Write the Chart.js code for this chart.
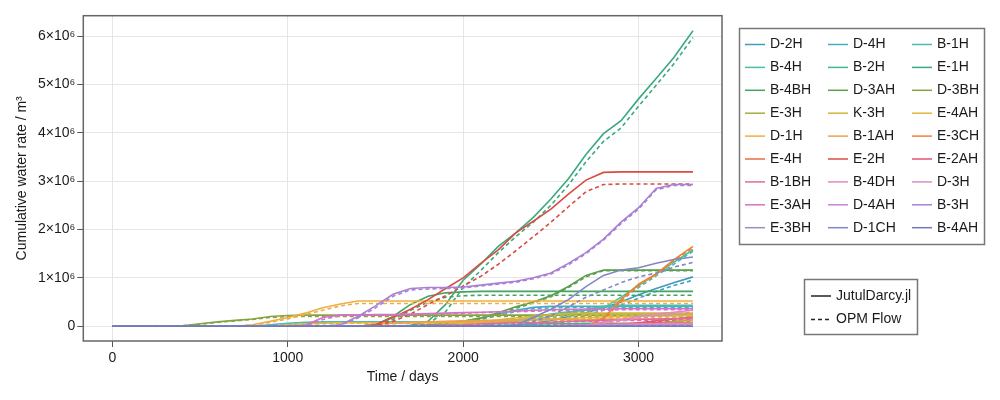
<!DOCTYPE html>
<html><head><meta charset="utf-8">
<script src="https://cdn.jsdelivr.net/npm/chart.js@4.4.0/dist/chart.umd.min.js"></script>
<style>html,body{margin:0;padding:0;background:#fff}#wrap{width:1000px;height:400px}</style>
</head><body><div id="wrap"><canvas id="c" width="1000" height="400"></canvas></div>
<script>
// Time axis (days)
const times = [0,100,200,300,400,500,600,700,800,900,1000,1100,1200,1300,1400,1500,1600,1700,1800,1900,2000,2100,2200,2300,2400,2500,2600,2700,2800,2900,3000,3100,3200,3310];
const xTicks = [0,1000,2000,3000];
const yTicks = [0,1,2,3,4,5,6]; // units of 10^6 m^3
const wells = ["D-2H","D-4H","B-1H","B-4H","B-2H","E-1H","B-4BH","D-3AH","D-3BH","E-3H","K-3H","E-4AH","D-1H","B-1AH","E-3CH","E-4H","E-2H","E-2AH","B-1BH","B-4DH","D-3H","E-3AH","D-4AH","B-3H","E-3BH","D-1CH","B-4AH"];

// Cumulative water, 10^6 m^3. j_ = JutulDarcy.jl, o_ = OPM Flow
const j_D2H = [0,0,0,0,0,0,0,0,0,0, 0,0,0,0,0,0,0,0,0,0, 0,0,0,0.02,0.06,0.12,0.2,0.28,0.38,0.5, 0.65,0.78,0.9,1.02];
const o_D2H = [0,0,0,0,0,0,0,0,0,0, 0,0,0,0,0,0,0,0,0,0, 0,0,0,0.01,0.04,0.09,0.16,0.23,0.33,0.44, 0.58,0.72,0.84,0.95];
const j_D4H = [0,0,0,0,0,0,0,0,0,0, 0,0,0,0,0,0,0,0,0,0.04, 0.1,0.17,0.25,0.33,0.39,0.41,0.41,0.41,0.41,0.41, 0.41,0.41,0.41,0.41];
const o_D4H = [0,0,0,0,0,0,0,0,0,0, 0,0,0,0,0,0,0,0,0,0.02, 0.07,0.14,0.22,0.3,0.36,0.38,0.39,0.39,0.39,0.39, 0.39,0.39,0.39,0.39];
const j_B1H = [0,0,0,0,0,0,0,0,0,0.03, 0.06,0.08,0.09,0.09,0.09,0.09,0.09,0.09,0.09,0.09, 0.09,0.09,0.09,0.09,0.13,0.2,0.28,0.35,0.41,0.43, 0.43,0.43,0.43,0.43];
const o_B1H = [0,0,0,0,0,0,0,0,0,0.02, 0.05,0.07,0.08,0.08,0.08,0.08,0.08,0.08,0.08,0.08, 0.08,0.08,0.08,0.08,0.11,0.17,0.25,0.32,0.38,0.41, 0.42,0.42,0.42,0.42];
const j_B4H = [0,0,0,0,0,0,0,0,0,0, 0,0,0,0,0,0,0,0,0,0, 0,0.02,0.06,0.12,0.18,0.25,0.3,0.33,0.38,0.6, 0.84,1.08,1.32,1.58];
const o_B4H = [0,0,0,0,0,0,0,0,0,0, 0,0,0,0,0,0,0,0,0,0, 0,0.01,0.04,0.09,0.15,0.21,0.26,0.3,0.35,0.56, 0.8,1.04,1.28,1.55];
const j_B2H = [0,0,0,0,0,0,0,0,0,0, 0,0,0,0,0,0,0,0,0,0, 0,0.01,0.02,0.03,0.04,0.05,0.05,0.06,0.06,0.06, 0.06,0.06,0.07,0.07];
const o_B2H = [0,0,0,0,0,0,0,0,0,0, 0,0,0,0,0,0,0,0,0,0, 0,0.01,0.01,0.02,0.03,0.04,0.04,0.05,0.05,0.05, 0.05,0.05,0.06,0.06];
const j_E1H = [0,0,0,0,0,0,0,0,0,0, 0,0,0,0,0,0,0,0.02,0.1,0.45, 0.95,1.28,1.65,1.93,2.25,2.63,3.05,3.55,3.98,4.25, 4.7,5.12,5.55,6.11];
const o_E1H = [0,0,0,0,0,0,0,0,0,0, 0,0,0,0,0,0,0,0.01,0.05,0.3, 0.8,1.15,1.52,1.85,2.15,2.5,2.92,3.4,3.82,4.1, 4.55,4.98,5.42,5.97];
const j_B4BH = [0,0,0,0,0,0,0,0,0,0, 0,0,0,0,0,0.03,0.2,0.45,0.62,0.69, 0.71,0.72,0.72,0.72,0.72,0.72,0.72,0.72,0.72,0.72, 0.72,0.72,0.72,0.72];
const o_B4BH = [0,0,0,0,0,0,0,0,0,0, 0,0,0,0,0,0.02,0.14,0.33,0.5,0.6, 0.63,0.64,0.64,0.64,0.64,0.64,0.64,0.64,0.64,0.64, 0.64,0.64,0.64,0.64];
const j_D3AH = [0,0,0,0,0,0,0,0,0,0, 0,0,0,0,0,0,0,0.01,0.03,0.06, 0.1,0.17,0.28,0.4,0.5,0.63,0.82,1.05,1.16,1.16, 1.16,1.16,1.16,1.16];
const o_D3AH = [0,0,0,0,0,0,0,0,0,0, 0,0,0,0,0,0,0,0.01,0.02,0.05, 0.08,0.15,0.25,0.37,0.48,0.61,0.8,1.02,1.15,1.15, 1.15,1.15,1.15,1.15];
const j_D3BH = [0,0,0,0,0.01,0.05,0.09,0.12,0.15,0.2, 0.22,0.23,0.23,0.23,0.23,0.23,0.23,0.23,0.23,0.23, 0.23,0.23,0.23,0.23,0.23,0.23,0.23,0.23,0.23,0.23, 0.23,0.23,0.23,0.23];
const o_D3BH = [0,0,0,0,0.01,0.04,0.08,0.11,0.14,0.18, 0.2,0.2,0.2,0.2,0.2,0.2,0.2,0.2,0.2,0.2, 0.2,0.2,0.2,0.2,0.2,0.2,0.2,0.2,0.2,0.2, 0.2,0.2,0.2,0.2];
const j_E3H = [0,0,0,0,0,0,0,0,0,0, 0,0,0,0,0,0,0,0,0,0, 0,0,0,0,0,0,0,0,0.01,0.03, 0.05,0.07,0.1,0.13];
const o_E3H = [0,0,0,0,0,0,0,0,0,0, 0,0,0,0,0,0,0,0,0,0, 0,0,0,0,0,0,0,0,0.01,0.02, 0.04,0.06,0.08,0.11];
const j_K3H = [0,0,0,0,0,0,0,0,0,0, 0,0,0,0,0,0,0,0,0,0.02, 0.05,0.09,0.13,0.17,0.21,0.24,0.26,0.27,0.27,0.27, 0.27,0.27,0.27,0.27];
const o_K3H = [0,0,0,0,0,0,0,0,0,0, 0,0,0,0,0,0,0,0,0,0.01, 0.04,0.07,0.1,0.14,0.17,0.2,0.22,0.23,0.23,0.23, 0.23,0.23,0.23,0.23];
const j_E4AH = [0,0,0,0,0,0,0,0,0,0, 0.03,0.05,0.06,0.07,0.07,0.07,0.07,0.07,0.07,0.07, 0.07,0.09,0.1,0.12,0.13,0.15,0.16,0.18,0.19,0.2, 0.2,0.21,0.21,0.22];
const o_E4AH = [0,0,0,0,0,0,0,0,0,0, 0.02,0.04,0.05,0.06,0.06,0.06,0.06,0.06,0.06,0.06, 0.06,0.08,0.09,0.1,0.11,0.13,0.14,0.16,0.17,0.18, 0.18,0.19,0.19,0.2];
const j_D1H = [0,0,0,0,0,0,0,0,0.03,0.1, 0.18,0.27,0.38,0.46,0.52,0.52,0.52,0.52,0.52,0.52, 0.52,0.52,0.52,0.52,0.52,0.52,0.52,0.52,0.52,0.52, 0.52,0.52,0.52,0.52];
const o_D1H = [0,0,0,0,0,0,0,0,0.02,0.08, 0.15,0.24,0.33,0.42,0.47,0.47,0.47,0.47,0.47,0.47, 0.47,0.47,0.47,0.47,0.47,0.47,0.47,0.47,0.47,0.47, 0.47,0.47,0.47,0.47];
const j_B1AH = [0,0,0,0,0,0,0,0,0,0, 0,0,0,0,0,0.04,0.06,0.08,0.09,0.1, 0.11,0.12,0.12,0.13,0.13,0.14,0.14,0.14,0.15,0.15, 0.15,0.15,0.15,0.15];
const o_B1AH = [0,0,0,0,0,0,0,0,0,0, 0,0,0,0,0,0.03,0.05,0.07,0.08,0.09, 0.1,0.1,0.11,0.11,0.12,0.12,0.12,0.13,0.13,0.13, 0.13,0.13,0.13,0.13];
const j_E3CH = [0,0,0,0,0,0,0,0,0,0, 0,0,0,0,0,0,0,0,0,0, 0,0,0,0,0,0,0,0,0.17,0.55, 0.87,1.08,1.37,1.65];
const o_E3CH = [0,0,0,0,0,0,0,0,0,0, 0,0,0,0,0,0,0,0,0,0, 0,0,0,0,0,0,0,0,0.13,0.51, 0.84,1.06,1.35,1.62];
const j_E4H = [0,0,0,0,0,0,0,0,0,0, 0,0,0,0,0,0,0,0,0,0, 0,0,0,0,0,0.01,0.02,0.03,0.04,0.05, 0.06,0.07,0.07,0.08];
const o_E4H = [0,0,0,0,0,0,0,0,0,0, 0,0,0,0,0,0,0,0,0,0, 0,0,0,0,0,0,0.01,0.02,0.03,0.04, 0.05,0.06,0.06,0.07];
const j_E2H = [0,0,0,0,0,0,0,0,0,0, 0,0,0,0,0,0.03,0.18,0.35,0.55,0.78, 1.0,1.3,1.58,1.93,2.17,2.42,2.73,3.02,3.18,3.19, 3.19,3.19,3.19,3.19];
const o_E2H = [0,0,0,0,0,0,0,0,0,0, 0,0,0,0,0,0.01,0.1,0.25,0.45,0.63, 0.83,1.03,1.28,1.56,1.85,2.15,2.47,2.78,2.93,2.94, 2.94,2.94,2.94,2.94];
const j_E2AH = [0,0,0,0,0,0,0,0,0,0, 0,0,0,0,0,0,0,0,0,0, 0,0,0,0,0,0,0,0,0,0.03, 0.07,0.11,0.15,0.19];
const o_E2AH = [0,0,0,0,0,0,0,0,0,0, 0,0,0,0,0,0,0,0,0,0, 0,0,0,0,0,0,0,0,0,0.02, 0.06,0.09,0.13,0.17];
const j_B1BH = [0,0,0,0,0,0,0,0,0,0, 0,0,0,0,0,0,0,0.01,0.02,0.02, 0.03,0.05,0.06,0.07,0.07,0.08,0.1,0.11,0.12,0.13, 0.14,0.15,0.16,0.17];
const o_B1BH = [0,0,0,0,0,0,0,0,0,0, 0,0,0,0,0,0,0,0,0.01,0.02, 0.02,0.04,0.05,0.06,0.06,0.07,0.09,0.1,0.11,0.12, 0.12,0.13,0.14,0.15];
const j_B4DH = [0,0,0,0,0,0,0,0,0,0, 0,0,0,0,0,0,0,0,0,0, 0,0,0,0,0,0,0,0.02,0.08,0.14, 0.2,0.25,0.29,0.33];
const o_B4DH = [0,0,0,0,0,0,0,0,0,0, 0,0,0,0,0,0,0,0,0,0, 0,0,0,0,0,0,0,0.01,0.06,0.11, 0.16,0.21,0.25,0.29];
const j_D3H = [0,0,0,0,0,0,0,0,0,0, 0,0,0,0,0,0,0,0,0,0, 0,0,0,0,0,0,0.01,0.02,0.03,0.04, 0.05,0.05,0.06,0.06];
const o_D3H = [0,0,0,0,0,0,0,0,0,0, 0,0,0,0,0,0,0,0,0,0, 0,0,0,0,0,0,0,0.01,0.02,0.03, 0.04,0.04,0.05,0.05];
const j_E3AH = [0,0,0,0,0,0,0,0,0,0, 0,0.02,0.18,0.23,0.23,0.24,0.24,0.25,0.26,0.27, 0.28,0.29,0.3,0.31,0.33,0.34,0.35,0.35,0.35,0.36, 0.36,0.36,0.36,0.36];
const o_E3AH = [0,0,0,0,0,0,0,0,0,0, 0,0.01,0.14,0.22,0.22,0.23,0.23,0.24,0.25,0.26, 0.27,0.28,0.29,0.3,0.31,0.32,0.33,0.33,0.33,0.34, 0.34,0.34,0.34,0.34];
const j_D4AH = [0,0,0,0,0,0,0,0,0,0, 0,0,0,0,0,0,0,0,0,0, 0,0,0,0.01,0.01,0.01,0.02,0.02,0.02,0.02, 0.03,0.03,0.03,0.03];
const o_D4AH = [0,0,0,0,0,0,0,0,0,0, 0,0,0,0,0,0,0,0,0,0, 0,0,0,0,0.01,0.01,0.01,0.01,0.02,0.02, 0.02,0.02,0.02,0.02];
const j_B3H = [0,0,0,0,0,0,0,0,0,0, 0,0,0,0.03,0.2,0.42,0.66,0.78,0.8,0.8, 0.81,0.85,0.89,0.93,1.0,1.1,1.3,1.52,1.8,2.15, 2.45,2.85,2.93,2.93];
const o_B3H = [0,0,0,0,0,0,0,0,0,0, 0,0,0,0.02,0.17,0.38,0.62,0.75,0.77,0.78, 0.79,0.83,0.87,0.91,0.98,1.08,1.27,1.5,1.78,2.12, 2.42,2.82,2.91,2.91];
const j_E3BH = [0,0,0,0,0,0,0,0,0,0, 0,0,0,0,0,0,0,0,0,0, 0,0,0,0,0,0,0,0,0,0, 0,0,0,0];
const o_E3BH = [0,0,0,0,0,0,0,0,0,0, 0,0,0,0,0,0,0,0,0,0, 0,0,0,0,0,0,0,0,0,0, 0,0,0,0];
const j_D1CH = [0,0,0,0,0,0,0,0,0,0, 0,0,0,0,0,0,0,0,0,0, 0,0,0,0.02,0.18,0.35,0.55,0.82,1.05,1.16, 1.21,1.3,1.38,1.43];
const o_D1CH = [0,0,0,0,0,0,0,0,0,0, 0,0,0,0,0,0,0,0,0,0, 0,0,0,0.01,0.1,0.22,0.4,0.6,0.75,0.9, 1.02,1.1,1.22,1.32];
const j_B4AH = [0,0,0,0,0,0,0,0,0,0, 0,0,0,0,0,0,0,0,0,0, 0,0,0,0,0,0,0,0,0,0, 0,0,0,0];
const o_B4AH = [0,0,0,0,0,0,0,0,0,0, 0,0,0,0,0,0,0,0,0,0, 0,0,0,0,0,0,0,0,0,0, 0,0,0,0];

const jutulSeries = [j_D2H,j_D4H,j_B1H,j_B4H,j_B2H,j_E1H,j_B4BH,j_D3AH,j_D3BH,j_E3H,j_K3H,j_E4AH,j_D1H,j_B1AH,j_E3CH,j_E4H,j_E2H,j_E2AH,j_B1BH,j_B4DH,j_D3H,j_E3AH,j_D4AH,j_B3H,j_E3BH,j_D1CH,j_B4AH];
const opmSeries = [o_D2H,o_D4H,o_B1H,o_B4H,o_B2H,o_E1H,o_B4BH,o_D3AH,o_D3BH,o_E3H,o_K3H,o_E4AH,o_D1H,o_B1AH,o_E3CH,o_E4H,o_E2H,o_E2AH,o_B1BH,o_B4DH,o_D3H,o_E3AH,o_D4AH,o_B3H,o_E3BH,o_D1CH,o_B4AH];

// styles
const palette = ['#3f9cc0','#43adc4','#4cbab9','#45c0a8','#3fb893','#3aaa7e','#45a265','#5a9f4c','#86a440','#a6ae3c','#cdb73a','#e2b63e','#eeae42','#eba24c','#ec8438','#e66e46','#d94c43','#e05670','#de6c9c','#e389bd','#de8cc6','#d572c6','#c688d4','#aa80d2','#9c8bc9','#8088c4','#6f7abb'];
const FONT = "'Liberation Sans', Arial, sans-serif";
const TEXT = '#1a1a1a';

// later wells are drawn on top (lower "order" = drawn later in Chart.js)
const datasets = [];
wells.forEach((w, i) => {
  datasets.push({label: w + ' JutulDarcy.jl', data: times.map((t, k) => ({x: t, y: jutulSeries[i][k]})),
    borderColor: palette[i], borderWidth: 1.6, pointRadius: 0, fill: false, tension: 0, order: 200 - 2 * i});
  datasets.push({label: w + ' OPM Flow', data: times.map((t, k) => ({x: t, y: opmSeries[i][k]})),
    borderColor: palette[i], borderWidth: 1.6, borderDash: [4, 3], pointRadius: 0, fill: false, tension: 0, order: 199 - 2 * i});
});

const framePlugin = {
  id: 'frameAndLegends',
  afterDatasetsDraw(chart) {
    const {ctx, chartArea: a} = chart;
    ctx.save();
    ctx.strokeStyle = '#666'; ctx.lineWidth = 1.5; ctx.setLineDash([]);
    ctx.strokeRect(a.left, a.top, a.right - a.left, a.bottom - a.top);
    ctx.restore();
  },
  afterDraw(chart) {
    const ctx = chart.ctx;
    ctx.save();
    ctx.setLineDash([]);
    ctx.strokeStyle = '#777'; ctx.lineWidth = 1.5;
    ctx.strokeRect(739.5, 28.5, 245, 216);
    ctx.font = '14px ' + FONT; ctx.textBaseline = 'middle'; ctx.textAlign = 'left';
    const colX = [745, 828, 912];
    wells.forEach((w, i) => {
      const col = i % 3, row = Math.floor(i / 3);
      const y = 44.5 + row * 22.9;
      const lx = colX[col];
      ctx.strokeStyle = palette[i]; ctx.lineWidth = 1.5;
      ctx.beginPath(); ctx.moveTo(lx, y); ctx.lineTo(lx + 20, y); ctx.stroke();
      ctx.fillStyle = TEXT;
      ctx.fillText(w, lx + 25, y);
    });
    // second legend
    ctx.strokeStyle = '#777'; ctx.lineWidth = 1.5;
    ctx.strokeRect(804.5, 279.5, 113, 55);
    const rows = [['JutulDarcy.jl', []], ['OPM Flow', [4, 3]]];
    rows.forEach((r, k) => {
      const y = 296 + k * 23.5;
      ctx.strokeStyle = '#222'; ctx.lineWidth = 1.5; ctx.setLineDash(r[1]);
      ctx.beginPath(); ctx.moveTo(811, y); ctx.lineTo(831, y); ctx.stroke();
      ctx.setLineDash([]);
      ctx.fillStyle = TEXT;
      ctx.fillText(r[0], 836, y);
    });
    ctx.restore();
  }
};

new Chart(document.getElementById('c'), {
  type: 'line',
  data: {datasets},
  plugins: [framePlugin],
  options: {
    animation: false, responsive: false, devicePixelRatio: 1,
    layout: {padding: {left: 0, right: 278, top: 15.7, bottom: 0}},
    plugins: {legend: {display: false}, tooltip: {enabled: false}},
    scales: {
      x: {
        type: 'linear', min: -165.5, max: 3475.5,
        afterBuildTicks: s => { s.ticks = xTicks.map(v => ({value: v})); },
        afterFit: s => { s.height = 59; },
        grid: {color: '#e6e6e6', lineWidth: 1, tickColor: '#555', tickLength: 6, tickWidth: 1},
        border: {display: false},
        ticks: {color: TEXT, font: {family: FONT, size: 14}, padding: 3, maxRotation: 0, autoSkip: false,
          callback: v => String(v)},
        title: {display: true, text: 'Time / days', color: TEXT, font: {family: FONT, size: 14}, padding: {top: 0, bottom: 14.6}}
      },
      y: {
        type: 'linear', min: -0.306, max: 6.42,
        afterBuildTicks: s => { s.ticks = yTicks.map(v => ({value: v})); },
        afterFit: s => { s.width = 83.3; },
        grid: {color: '#e6e6e6', lineWidth: 1, tickColor: '#555', tickLength: 6, tickWidth: 1},
        border: {display: false},
        ticks: {color: TEXT, font: {family: FONT, size: 14}, padding: 2, autoSkip: false,
          callback: v => v === 0 ? '0' : v + '×10⁶'},
        title: {display: true, text: 'Cumulative water rate / m³', color: TEXT, font: {family: FONT, size: 14}, padding: {top: 13.3, bottom: 0}}
      }
    }
  }
});
</script>
</body></html>
